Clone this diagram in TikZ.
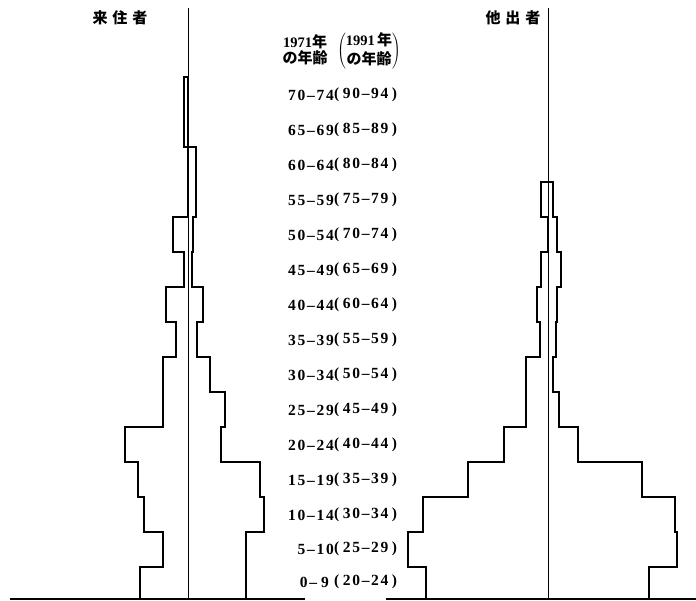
\documentclass[tikz,border=0pt]{standalone}
\usepackage{fontspec}
\setmainfont{Liberation Serif}
\newfontfamily\cjk{Noto Sans CJK JP}
\newfontfamily\cjkt{Noto Sans CJK JP}[LetterSpace=32]
\newfontfamily\lab{Liberation Serif}[LetterSpace=11]
\begin{document}
\begin{tikzpicture}[x=1pt,y=-1pt,
  prof/.style={line width=1.5pt, line join=miter},
  axisline/.style={line width=0.9pt},
  baseline/.style={line width=1.4pt},
  ttl/.style={inner sep=0pt, font=\cjkt\bfseries\fontsize{15}{18}\selectfont},
  lblL/.style={inner sep=0pt, anchor=east, font=\lab\bfseries\fontsize{15.5}{18}\selectfont},
  lblR/.style={inner sep=0pt, anchor=west, font=\lab\bfseries\fontsize{15.5}{18}\selectfont},
  hd/.style={inner sep=0pt, align=center, font=\bfseries\fontsize{14.5}{15}\selectfont}]
\useasboundingbox (0,0) rectangle (696,601);

% titles
\node[ttl] (tL) at (120,18) {来住者};
\node[ttl] (tR) at (513,18) {他出者};

% heading
\node[hd] (h1) at (305,50) {1971{\cjk\bfseries\fontsize{15}{15}\selectfont 年}\\[1pt]{\cjk\bfseries\fontsize{15}{15}\selectfont の年齢}};
\node[inner sep=0pt, font=\bfseries\fontsize{14.5}{15}\selectfont] (h2) at (369,51)
  {$\left(\vcenter{\hbox{\begin{tabular}{@{}c@{}}1991\,{\cjk\bfseries\fontsize{15}{15}\selectfont 年}\\[1pt]{\cjk\bfseries\fontsize{15}{15}\selectfont の年齢}\end{tabular}}}\right)$};

% age labels
\foreach \l/\r/\y [count=\i] in {
  {70–74}/{90–94}/95, {65–69}/{85–89}/130, {60–64}/{80–84}/165,
  {55–59}/{75–79}/200, {50–54}/{70–74}/235, {45–49}/{65–69}/270,
  {40–44}/{60–64}/305, {35–39}/{55–59}/340, {30–34}/{50–54}/375,
  {25–29}/{45–49}/410, {20–24}/{40–44}/445, {15–19}/{35–39}/480,
  {10–14}/{30–34}/515, {5–10}/{25–29}/549, {0–\kern4pt9\kern5pt}/{20–24}/582}{
  \node[lblL] (L\i) at (334,\y) {\l};
  \node[lblR] (R\i) at (334,\y) {(\kern3.5pt\r\kern3.5pt)};
}

% left chart
\coordinate (aLt) at (188,8);
\coordinate (aLb) at (188,599);
\coordinate (bL1) at (10,599);
\coordinate (bL2) at (305,599);
\draw[axisline] (aLt) -- (aLb);
\draw[baseline] (bL1) -- (bL2);
\draw[prof] (140,599) |- (163,567) |- (144,532) |- (138,497) |- (125,462)
  |- (163,427) |- (176,357) |- (166,322) |- (184,287) |- (173,252)
  |- (188,217) |- (184,147) |- (188,77) -- (188,147)
  -| (196,217) -| (193,252) -| (192,287) -| (203,322) -| (197,357)
  -| (210,392) -| (225,427) -| (221,462) -| (260,497) -| (264,532) -| (246,599);

% right chart
\coordinate (aRt) at (548,8);
\coordinate (aRb) at (548,599);
\coordinate (bR1) at (386,599);
\coordinate (bR2) at (696,599);
\draw[axisline] (aRt) -- (aRb);
\draw[baseline] (bR1) -- (bR2);
\draw[prof] (426,599) |- (408,567) |- (423,532) |- (468,497) |- (504,462)
  |- (526,427) |- (540,357) |- (537,322) |- (541,287) |- (548,252)
  |- (541,217) |- (548,182)
  -| (553,217) -| (557,252) -| (561,287) -| (557,322) -| (556,357)
  -| (553,392) -| (559,427) -| (578,462) -| (642,497) -| (675,532)
  -| (677,567) -| (649,599);
\end{tikzpicture}
\end{document}
